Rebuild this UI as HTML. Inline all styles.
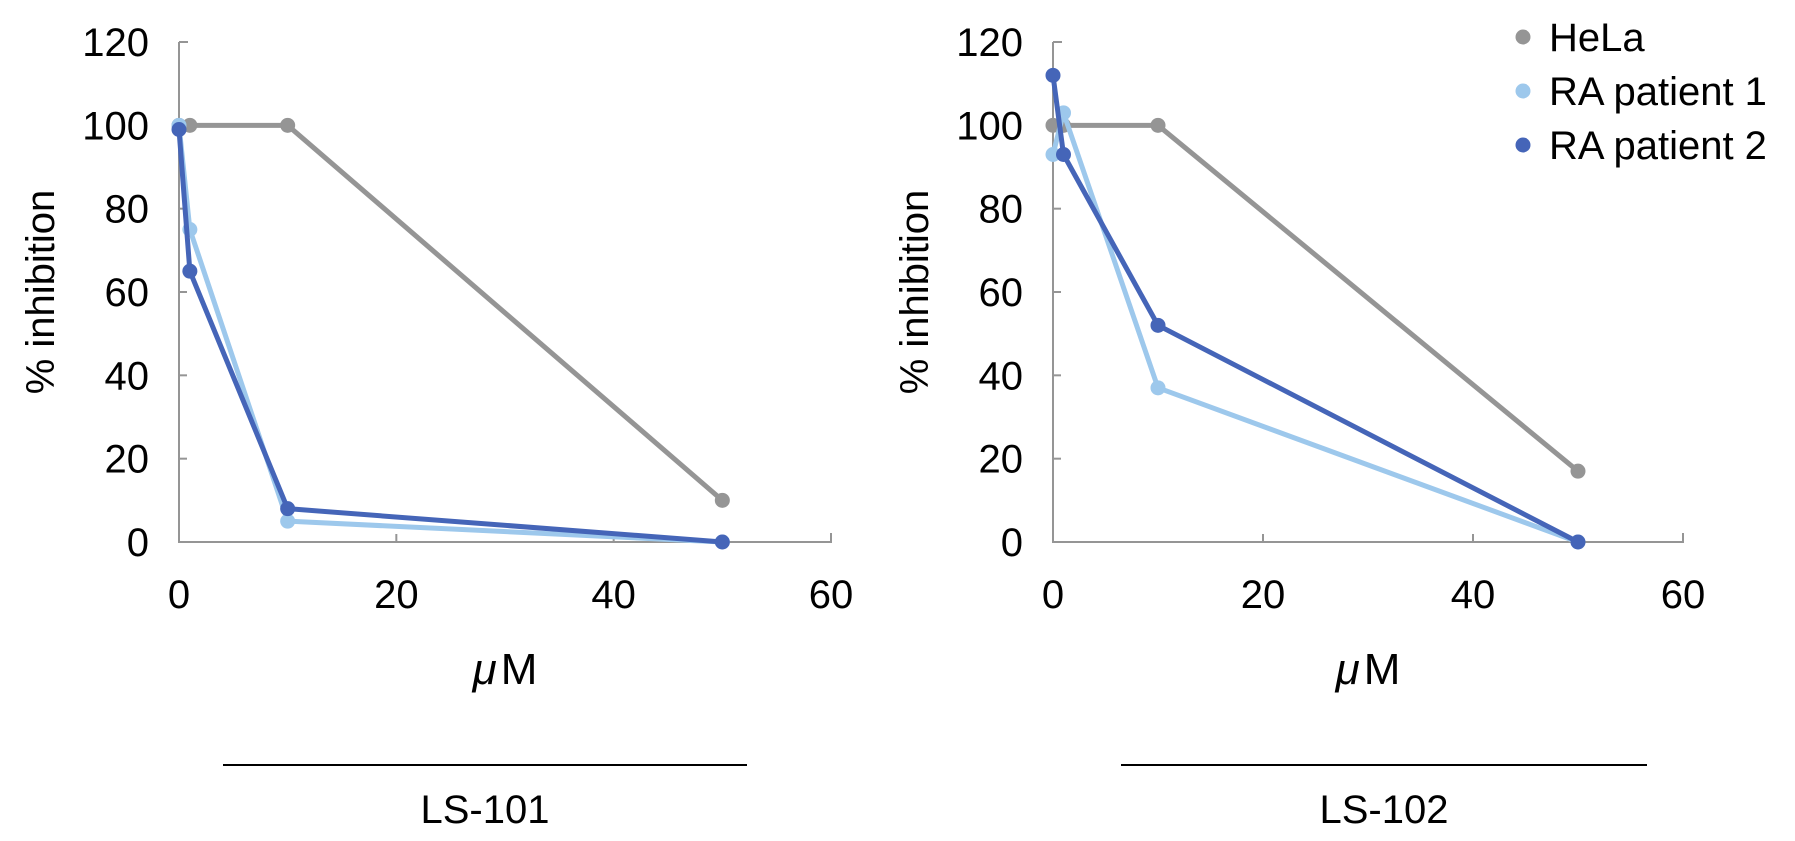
<!DOCTYPE html>
<html><head><meta charset="utf-8"><style>
body{margin:0;background:#fff;}
svg{display:block;font-family:"Liberation Sans",sans-serif;}
</style></head><body>
<svg id="chart" width="1795" height="841" viewBox="0 0 1795 841"></svg>
<script>
const xValues=[0,1,10,50];
const seriesNames=["HeLa","RA patient 1","RA patient 2"];
const seriesColors=["#959595","#9dc8ec","#4565b8"];
const ls101HeLa=[100,100,100,10];
const ls101RA1=[100,75,5,0];
const ls101RA2=[99,65,8,0];
const ls102HeLa=[100,100,100,17];
const ls102RA1=[93,103,37,0];
const ls102RA2=[112,93,52,0];
const yTicks=[0,20,40,60,80,100,120];
const xTicks=[0,20,40,60];
const panelTitles=["LS-101","LS-102"];

const NS="http://www.w3.org/2000/svg";
const svg=document.getElementById('chart');
function mk(tag,attrs,parent,text){const e=document.createElementNS(NS,tag);for(const k in attrs)e.setAttribute(k,attrs[k]);if(text!==undefined)e.textContent=text;(parent||svg).appendChild(e);return e;}

const panels=[
 {x0:179,x1:831,data:[ls101HeLa,ls101RA1,ls101RA2],lx1:223,lx2:747},
 {x0:1053,x1:1683,data:[ls102HeLa,ls102RA1,ls102RA2],lx1:1121,lx2:1647}
];
const yTop=42,yBot=542;
panels.forEach((p,pi)=>{
 const g=mk('g',{});
 
 
 const sx=v=>p.x0+(v/60)*(p.x1-p.x0);
 const sy=v=>yBot-(v/120)*(yBot-yTop);
 const ax=mk('path',{d:`M${p.x0},${yTop}H${p.x0+9}M${p.x0},${yTop}V${yBot}H${p.x1}V${yBot-9}`,stroke:'#959595','stroke-width':2,fill:'none'},g);
 
 
 yTicks.forEach(t=>{
  if(t>0&&t<120)mk('line',{x1:p.x0,x2:p.x0+8,y1:sy(t),y2:sy(t),stroke:'#959595','stroke-width':2},g);
  const tl=mk('text',{x:p.x0-30,y:sy(t)+14,'text-anchor':'end','font-size':40},g,t);
  
  
 });
 xTicks.forEach(t=>{
  if(t>0&&t<60)mk('line',{x1:sx(t),x2:sx(t),y1:yBot,y2:yBot-8,stroke:'#959595','stroke-width':2},g);
  const tl=mk('text',{x:sx(t),y:yBot+66,'text-anchor':'middle','font-size':40},g,t);
  
  
 });
 const yt=mk('text',{transform:`translate(${p.x0-125},${(yTop+yBot)/2}) rotate(-90)`,'text-anchor':'middle','font-size':40},g,'% inhibition');
 
 
 const xt=mk('text',{x:(p.x0+p.x1)/2,y:684,'text-anchor':'middle','font-size':44},g);
 
 
 mk('tspan',{'font-style':'italic'},xt,'μ');mk('tspan',{dx:4},xt,'M');
 const bl=mk('line',{x1:p.lx1,x2:p.lx2,y1:765,y2:765,stroke:'#000','stroke-width':2},g);
 
 
 const pt=mk('text',{x:(p.lx1+p.lx2)/2,y:823,'text-anchor':'middle','font-size':40},g,panelTitles[pi]);
 
 
 p.data.forEach((vals,si)=>{
  const pts=vals.map((v,i)=>sx(xValues[i])+','+sy(v)).join(' ');
  const pl=mk('polyline',{points:pts,fill:'none',stroke:seriesColors[si],'stroke-width':5,'stroke-linejoin':'round'},g);
  
  
  vals.forEach((v,i)=>{
   const c=mk('circle',{cx:sx(xValues[i]),cy:sy(v),r:7.5,fill:seriesColors[si]},g);
   
   
  });
 });
});
const lg=mk('g',{});


seriesNames.forEach((n,i)=>{
 const y=37+i*54;
 const e=mk('g',{},lg);
 
 
 mk('circle',{cx:1523,cy:y,r:7.5,fill:seriesColors[i]},e);
 mk('text',{x:1549,y:y+14,'font-size':40},e,n);
});
</script>
</body></html>
